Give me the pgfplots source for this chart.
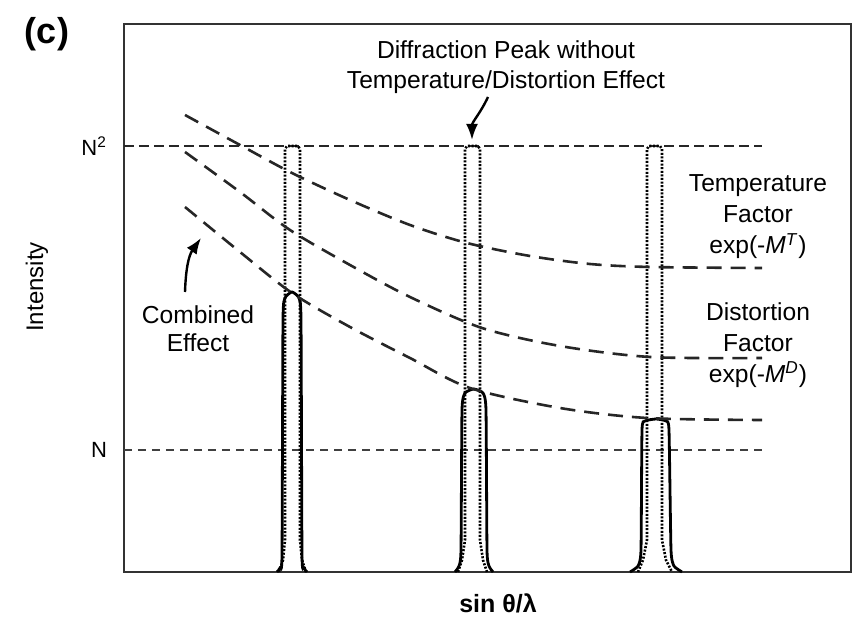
\documentclass[border=0pt]{standalone}
\usepackage{fontspec}
\setmainfont{Liberation Sans}
\usepackage{pgfplots}
\pgfplotsset{compat=1.18}
\usetikzlibrary{arrows.meta}

\begin{document}
\begin{tikzpicture}
\begin{axis}[
    scale only axis,
    width=363.5pt, height=274pt,
    xmin=124, xmax=851,
    ymin=0, ymax=548,
    axis line style={black!80, line width=1.1pt},
    xtick=\empty,
    ytick={122,426},
    yticklabels={N, N\textsuperscript{2}},
    yticklabel style={font=\fontsize{11}{13}\selectfont, xshift=-5pt},
    tick pos=left,
    major tick length=3pt,
    tick style={black, line width=0.8pt},
    clip=false,
]
% reference levels N^2 and N
\addplot[black!85, line width=1.3pt, dash pattern=on 5pt off 2.5pt] coordinates {(124,426) (762,426)};
\addplot[black!75, line width=0.8pt, dash pattern=on 4pt off 3pt] coordinates {(124,122) (762,122)};

% peaks without temperature/distortion effect (dotted)
\addplot[black, line width=1.3pt, dash pattern=on 1pt off 0.8pt] coordinates {
  (279,0) (283,12) (285,32) (285,423) (287,426) (298,426) (300,423) (300,32) (302,12) (306,0)};
\addplot[black, line width=1.3pt, dash pattern=on 1pt off 0.8pt] coordinates {
  (458,0) (462,12) (465,32) (465,423) (467,426) (478,426) (480,423) (480,32) (483,12) (487,0)};
\addplot[black, line width=1.3pt, dash pattern=on 1pt off 0.8pt] coordinates {
  (638,0) (643,12) (647,32) (647,423) (649,426) (660,426) (662,423) (662,32) (666,12) (672,0)};

% peaks with combined effect (solid)
\addplot[black, line width=1.4pt, smooth, tension=0.3] coordinates {
  (277,0) (280,4) (282,17) (283,252) (285,274) (292,280) (299,274) (301,252) (302,17) (304,4) (307,0)};
\addplot[black, line width=1.4pt, smooth, tension=0.3] coordinates {
  (455,0) (459,6) (461,22) (462,162) (465,179) (474,183) (483,179) (486,162) (487,22) (489,6) (493,0)};
\addplot[black, line width=1.4pt, smooth, tension=0.3] coordinates {
  (630,0) (638,6) (641,22) (642,142) (645,151) (656,153) (666,151) (669,142) (671,22) (674,6) (682,0)};

% temperature factor
\addplot[black!85, line width=1.3pt, dash pattern=on 7.5pt off 4.5pt, smooth] coordinates {
  (185,457) (240,427) (292,399) (350,372) (410,347) (467,329) (530,316) (590,308) (650,305) (762,304)};
% distortion factor
\addplot[black!85, line width=1.3pt, dash pattern=on 7.5pt off 4.5pt, smooth] coordinates {
  (185,420) (240,380) (290,342) (350,307) (410,275) (482,244) (560,226) (650,215) (762,214)};
% combined effect
\addplot[black!85, line width=1.3pt, dash pattern=on 7.5pt off 4.5pt, smooth] coordinates {
  (185,365) (240,320) (292,279) (350,245) (410,214) (470,184) (560,164) (647,154) (762,152)};

% annotations
\node[align=center, font=\fontsize{12.3}{15}\selectfont] at (506,505)
  {Diffraction Peak without\\Temperature/Distortion Effect};
\draw[black, line width=1.2pt, -{Latex[length=8pt,width=6pt]}] (488,475) to[out=-115,in=90] (472,432);
\node[align=center, font=\fontsize{12.3}{15.5}\selectfont] at (758,355)
  {Temperature\\Factor\\exp(-\textit{M}\textsuperscript{\textit{T}})};
\node[align=center, font=\fontsize{12.3}{15.5}\selectfont] at (758,227)
  {Distortion\\Factor\\exp(-\textit{M}\textsuperscript{\textit{D}})};
\node[align=center, font=\fontsize{12.3}{14}\selectfont] at (198,243)
  {Combined\\Effect};
\draw[black, line width=1.2pt, -{Latex[length=8pt,width=6pt]}] (185,280) to[out=88,in=-125] (201,334);

% labels outside the box
\node[font=\fontsize{18}{20}\bfseries] at (47,538) {(c)};
\node[rotate=90, font=\fontsize{12}{14}\selectfont] at (37,285) {Intensity};
\node[font=\fontsize{12.5}{14}\bfseries] at (498,-31) {sin θ/λ};
\end{axis}
\useasboundingbox (-62pt,-24pt) rectangle (366pt,286pt);
\end{tikzpicture}
\end{document}
